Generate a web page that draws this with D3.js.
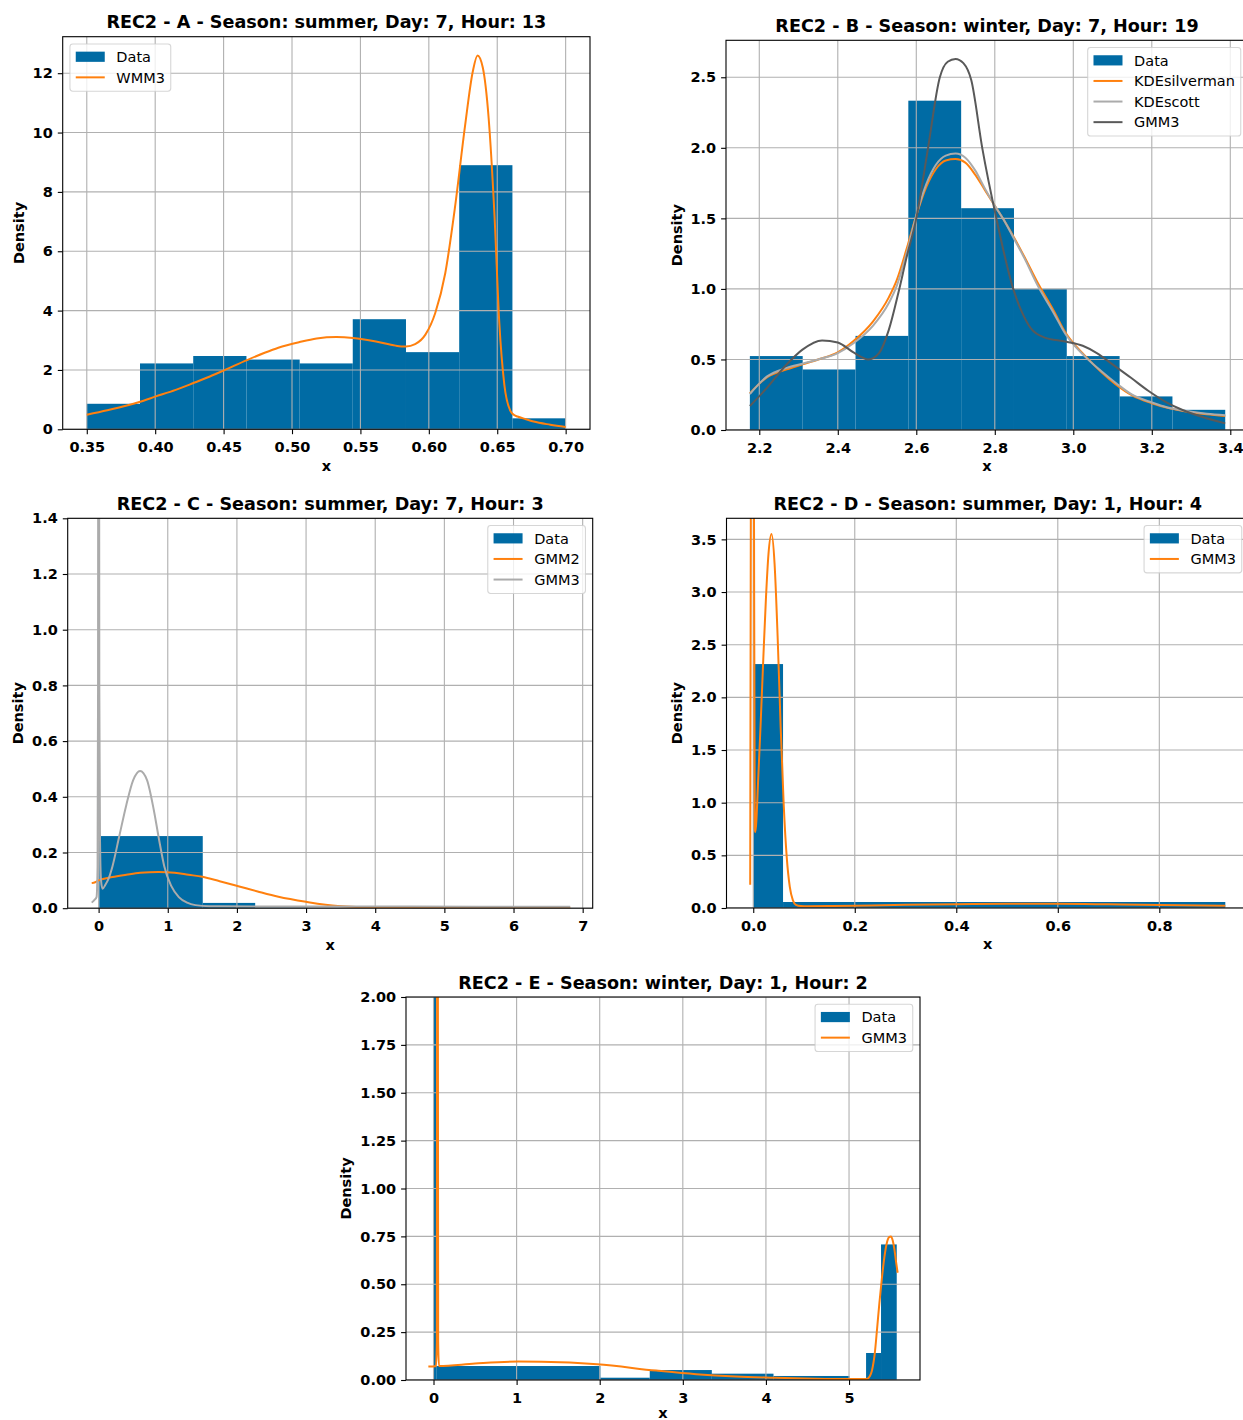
<!DOCTYPE html>
<html>
<head>
    <title>REC2 density fits</title>
    <meta charset="utf-8" />
    <style>
        body { margin: 0; background: #fff; }
        svg { display: block; font-family: "DejaVu Sans", sans-serif; }
        .tick-label { font-size: 14.5px; font-weight: bold; fill: #000; }
        .ax-label { font-size: 14.5px; font-weight: bold; fill: #000; }
        .ax-title { font-size: 17.6px; font-weight: bold; fill: #000; }
        .leg-text { font-size: 14.5px; fill: #000; }
    </style>
    <script src="https://cdn.jsdelivr.net/npm/d3@7"></script>
</head>
<body>
<svg id="fig"></svg>
<script>

/* data */

// A - summer, day 7, hour 13
let aEdges = [0.35, 0.3889, 0.4278, 0.4667, 0.5056, 0.5444, 0.5833, 0.6222, 0.6611, 0.70];
let aDensity = [0.86, 2.22, 2.47, 2.35, 2.22, 3.71, 2.60, 8.90, 0.37];
let aWMM3 = [[0.35,0.49],[0.365,0.64],[0.38,0.81],[0.389,0.93],[0.40,1.10],[0.415,1.33],[0.428,1.56],
    [0.44,1.78],[0.45,1.98],[0.467,2.33],[0.48,2.58],[0.49,2.75],[0.5056,2.94],[0.518,3.06],[0.5325,3.11],
    [0.5446,3.08],[0.5614,2.96],[0.5758,2.82],[0.5833,2.79],[0.590,2.87],[0.5975,3.19],[0.6047,3.92],
    [0.612,5.26],[0.6192,7.51],[0.6264,10.2],[0.6321,12.05],[0.6356,12.6],[0.6394,12.2],[0.6437,10.5],
    [0.648,7.2],[0.6515,3.6],[0.6552,1.5],[0.6596,0.62],[0.6624,0.48],[0.6648,0.43],[0.671,0.34],
    [0.6766,0.26],[0.6888,0.155],[0.70,0.08]];
let aXTicks = [0.35, 0.40, 0.45, 0.50, 0.55, 0.60, 0.65, 0.70];
let aYTicks = [0, 2, 4, 6, 8, 10, 12];

// B - winter, day 7, hour 19
let bEdges = [2.176, 2.3106, 2.4452, 2.5797, 2.7143, 2.8489, 2.9834, 3.118, 3.2526, 3.3871];
let bDensity = [0.524, 0.429, 0.667, 2.334, 1.572, 1.0, 0.524, 0.238, 0.143];
let bKDEsilverman = [[2.176,0.26],[2.22,0.375],[2.27,0.43],[2.31,0.465],[2.35,0.50],[2.40,0.55],[2.44,0.63],
    [2.49,0.77],[2.53,0.94],[2.55,1.06],[2.575,1.28],[2.60,1.52],[2.625,1.72],[2.65,1.85],[2.675,1.91],
    [2.70,1.92],[2.725,1.895],[2.75,1.81],[2.775,1.70],[2.80,1.59],[2.825,1.48],[2.85,1.36],[2.875,1.23],
    [2.91,1.04],[2.95,0.845],[2.98,0.69],[3.03,0.525],[3.07,0.415],[3.11,0.32],[3.15,0.245],[3.20,0.19],
    [3.24,0.158],[3.28,0.135],[3.34,0.112],[3.387,0.10]];
let bKDEscott = [[2.176,0.255],[2.22,0.38],[2.27,0.44],[2.31,0.47],[2.35,0.50],[2.40,0.545],[2.44,0.615],
    [2.49,0.74],[2.53,0.90],[2.55,1.02],[2.575,1.25],[2.60,1.52],[2.625,1.74],[2.65,1.88],[2.675,1.945],
    [2.70,1.96],[2.725,1.93],[2.75,1.84],[2.775,1.71],[2.80,1.59],[2.825,1.48],[2.85,1.35],[2.875,1.22],
    [2.91,1.02],[2.95,0.83],[2.98,0.68],[3.03,0.52],[3.07,0.42],[3.11,0.33],[3.15,0.25],[3.20,0.195],
    [3.24,0.16],[3.28,0.138],[3.34,0.115],[3.387,0.105]];
let bGMM3 = [[2.176,0.17],[2.22,0.30],[2.265,0.45],[2.31,0.57],[2.36,0.635],[2.40,0.62],[2.44,0.55],
    [2.478,0.50],[2.505,0.545],[2.53,0.71],[2.555,0.98],[2.575,1.22],[2.60,1.50],[2.63,2.00],[2.66,2.50],
    [2.68,2.61],[2.70,2.63],[2.72,2.60],[2.74,2.48],[2.768,2.00],[2.804,1.50],[2.847,1.00],[2.87,0.83],
    [2.892,0.72],[2.927,0.655],[2.98,0.627],[3.024,0.597],[3.06,0.545],[3.10,0.465],[3.147,0.37],
    [3.19,0.28],[3.235,0.20],[3.28,0.14],[3.323,0.097],[3.387,0.047]];
let bXTicks = [2.2, 2.4, 2.6, 2.8, 3.0, 3.2, 3.4];
let bYTicks = [0, 0.5, 1.0, 1.5, 2.0, 2.5];

// C - summer, day 7, hour 3
let cEdges = [0, 0.011, 1.506, 2.264, 3.02, 3.78, 4.54, 5.30, 6.06, 6.82];
let cDensity = [25, 0.259, 0.019, 0.002, 0.001, 0, 0.001, 0, 0.001];
let cGMM2 = [[-0.10,0.09],[-0.05,0.093],[0,0.10],[0.2,0.112],[0.4,0.12],[0.6,0.127],[0.87,0.13],[1.1,0.127],
    [1.3,0.12],[1.5,0.113],[1.75,0.097],[2.02,0.079],[2.3,0.06],[2.6,0.041],[3.0,0.023],[3.46,0.008],
    [4.03,0.003],[5.0,0.002],[6.82,0.002]];
let cGMM3 = [[-0.10,0.02],[-0.06,0.03],[-0.03,0.04],[-0.015,0.15],[-0.008,0.8],[-0.004,3.0],[0,6.0],
    [0.004,3.0],[0.01,0.8],[0.02,0.25],[0.035,0.10],[0.057,0.07],[0.10,0.085],[0.15,0.11],[0.20,0.15],
    [0.30,0.26],[0.40,0.37],[0.50,0.46],[0.60,0.493],[0.70,0.46],[0.80,0.35],[0.875,0.245],[0.95,0.15],
    [1.05,0.08],[1.16,0.04],[1.28,0.02],[1.40,0.011],[1.60,0.007],[2.5,0.006],[4.0,0.006],[5.5,0.005],
    [6.82,0.005]];
let cXTicks = [0, 1, 2, 3, 4, 5, 6, 7];
let cYTicks = [0, 0.2, 0.4, 0.6, 0.8, 1.0, 1.2, 1.4];

// D - summer, day 1, hour 4
let dEdges = [0, 0.0587, 0.93];
let dDensity = [2.316, 0.057];
let dGMM3 = [[-0.006,0.22],[-0.0045,4.5],[-0.0015,10],[0.0012,4.5],[0.003,0.75],[0.004,0.72],[0.01,1.25],
    [0.015,1.80],[0.02,2.39],[0.025,2.94],[0.03,3.36],[0.036,3.55],[0.042,3.27],[0.048,2.58],[0.054,1.72],
    [0.06,0.98],[0.066,0.48],[0.072,0.2],[0.078,0.075],[0.084,0.03],[0.094,0.018],[0.106,0.016],
    [0.15,0.018],[0.2,0.022],[0.3,0.03],[0.4,0.036],[0.5,0.04],[0.6,0.04],[0.7,0.035],[0.8,0.028],
    [0.93,0.022]];
let dXTicks = [0, 0.2, 0.4, 0.6, 0.8];
let dYTicks = [0, 0.5, 1.0, 1.5, 2.0, 2.5, 3.0, 3.5];

// E - winter, day 1, hour 2
let eEdges = [0, 0.033, 2.008, 2.602, 3.349, 4.091, 5.005, 5.205, 5.385, 5.574];
let eDensity = [12, 0.073, 0.012, 0.052, 0.033, 0.021, 0, 0.141, 0.708];
let eGMM3 = [[-0.062,0.07],[0.0,0.071],[0.03,0.072],[0.04,0.2],[0.045,3],[0.048,12],[0.051,3],[0.056,0.2],
    [0.066,0.073],[0.5,0.086],[1.02,0.096],[1.3,0.095],[1.97,0.082],[2.68,0.049],[3.16,0.03],[3.64,0.018],
    [4.11,0.012],[4.59,0.007],[5.0,0.005],[5.21,0.005],[5.25,0.02],[5.276,0.05],[5.31,0.14],[5.338,0.27],
    [5.365,0.40],[5.395,0.53],[5.425,0.64],[5.452,0.71],[5.48,0.745],[5.504,0.75],[5.525,0.73],
    [5.547,0.68],[5.565,0.62],[5.585,0.56]];
let eXTicks = [0, 1, 2, 3, 4, 5];
let eYTicks = [0, 0.25, 0.5, 0.75, 1.0, 1.25, 1.5, 1.75, 2.0];

/* colours (tableau-colorblind10) */
let BLUE = "#006BA4", ORANGE = "#FF800E", LGREY = "#ABABAB", DGREY = "#595959";

/* panel layout: [left, top, right, bottom] of each axes box in px */
let panels = [
    { title: "REC2 - A - Season: summer, Day: 7, Hour: 13", box: [62.7, 36.7, 590, 429.3],
      xDom: [0.3324, 0.7178], yDom: [0, 13.23], xTicks: aXTicks, yTicks: aYTicks, xFmt: ".2f", yFmt: "d",
      edges: aEdges, density: aDensity, legend: "left",
      curves: [{ name: "WMM3", pts: aWMM3, color: ORANGE }] },
    { title: "REC2 - B - Season: winter, Day: 7, Hour: 19", box: [726, 40.3, 1248, 430],
      xDom: [2.1152, 3.4451], yDom: [0, 2.762], xTicks: bXTicks, yTicks: bYTicks, xFmt: ".1f", yFmt: ".1f",
      edges: bEdges, density: bDensity, legend: "right",
      curves: [{ name: "KDEsilverman", pts: bKDEsilverman, color: ORANGE },
               { name: "KDEscott", pts: bKDEscott, color: LGREY },
               { name: "GMM3", pts: bGMM3, color: DGREY }] },
    { title: "REC2 - C - Season: summer, Day: 7, Hour: 3", box: [67.7, 518.3, 592.7, 908.2],
      xDom: [-0.447, 7.145], yDom: [0, 1.4], xTicks: cXTicks, yTicks: cYTicks, xFmt: "d", yFmt: ".1f",
      edges: cEdges, density: cDensity, legend: "right",
      curves: [{ name: "GMM2", pts: cGMM2, color: ORANGE },
               { name: "GMM3", pts: cGMM3, color: LGREY }] },
    { title: "REC2 - D - Season: summer, Day: 1, Hour: 4", box: [726.5, 518.3, 1249, 908],
      xDom: [-0.0527, 0.9767], yDom: [0, 3.7], xTicks: dXTicks, yTicks: dYTicks, xFmt: ".1f", yFmt: ".1f",
      edges: dEdges, density: dDensity, legend: "right",
      curves: [{ name: "GMM3", pts: dGMM3, color: ORANGE }] },
    { title: "REC2 - E - Season: winter, Day: 1, Hour: 2", box: [406, 997, 920, 1380],
      xDom: [-0.331, 5.854], yDom: [0, 2], xTicks: eXTicks, yTicks: eYTicks, xFmt: "d", yFmt: ".2f",
      edges: eEdges, density: eDensity, legend: "right",
      curves: [{ name: "GMM3", pts: eGMM3, color: ORANGE }] }
];

/* drawing */

let W = 1243, H = 1420;
let svg = d3.select("#fig").attr("width", W).attr("height", H);
svg.append("rect").attr("width", W).attr("height", H).attr("fill", "#fff");

panels.forEach(drawPanel);

function drawPanel(p, i) {
    let [l, t, r, b] = p.box;
    let x = d3.scaleLinear().domain(p.xDom).range([l, r]);
    let y = d3.scaleLinear().domain(p.yDom).range([b, t]);

    let g = svg.append("g").attr("class", "panel");
    let clipId = "clip" + i;
    g.append("clipPath").attr("id", clipId)
        .append("rect").attr("x", l).attr("y", t).attr("width", r - l).attr("height", b - t);

    let plot = g.append("g").attr("clip-path", "url(#" + clipId + ")");

    // histogram bars
    let bins = p.density.map((h, k) => ({ x0: p.edges[k], x1: p.edges[k + 1], h: h }));
    plot.append("g").selectAll("rect")
        .data(bins)
        .enter()
        .append("rect")
        .attr("x", d => x(d.x0))
        .attr("width", d => x(d.x1) - x(d.x0))
        .attr("y", d => y(d.h))
        .attr("height", d => y(0) - y(d.h))
        .attr("fill", BLUE);

    // grid (above bars, below lines, like matplotlib)
    let grid = plot.append("g").attr("stroke", "#b0b0b0").attr("stroke-width", 1.1);
    grid.selectAll(".gx").data(p.xTicks).enter().append("line")
        .attr("x1", d => x(d)).attr("x2", d => x(d)).attr("y1", t).attr("y2", b);
    grid.selectAll(".gy").data(p.yTicks).enter().append("line")
        .attr("x1", l).attr("x2", r).attr("y1", d => y(d)).attr("y2", d => y(d));

    // fitted densities
    let line = d3.line()
        .x(d => x(d[0]))
        .y(d => y(d[1]))
        .curve(d3.curveMonotoneX);
    plot.append("g").selectAll("path")
        .data(p.curves)
        .enter()
        .append("path")
        .attr("d", d => line(d.pts))
        .attr("fill", "none")
        .attr("stroke", d => d.color)
        .attr("stroke-width", 2)
        .attr("stroke-linejoin", "round");

    // frame
    g.append("rect").attr("x", l).attr("y", t).attr("width", r - l).attr("height", b - t)
        .attr("fill", "none").attr("stroke", "#000").attr("stroke-width", 1.1);

    // axes
    let xAx = g.append("g").attr("transform", "translate(0," + b + ")")
        .call(d3.axisBottom(x).tickValues(p.xTicks).tickFormat(d3.format(p.xFmt))
            .tickSize(4.9).tickPadding(7.5).tickSizeOuter(0));
    let yAx = g.append("g").attr("transform", "translate(" + l + ",0)")
        .call(d3.axisLeft(y).tickValues(p.yTicks).tickFormat(d3.format(p.yFmt))
            .tickSize(4.9).tickPadding(5).tickSizeOuter(0));
    [xAx, yAx].forEach(ax => {
        ax.select(".domain").remove();
        ax.attr("font-size", null).attr("font-family", null);
        ax.selectAll("line").attr("stroke", "#000").attr("stroke-width", 1.1);
        ax.selectAll("text").attr("class", "tick-label");
    });

    // titles and labels
    g.append("text").attr("class", "ax-title")
        .attr("x", (l + r) / 2).attr("y", t - 8.4)
        .attr("text-anchor", "middle")
        .text(p.title);

    // the bottom panel's "x" sits at the page edge; keep it inside
    g.append("text").attr("class", "ax-label")
        .attr("x", (l + r) / 2).attr("y", Math.min(b + 41.3, H - 2))
        .attr("text-anchor", "middle")
        .text("x");

    let minX = d3.min(yAx.selectAll("text").nodes(), n => n.getBBox().x) + l;
    g.append("text").attr("class", "ax-label")
        .attr("transform", "translate(" + (minX - 8.9) + "," + ((t + b) / 2) + ") rotate(-90)")
        .attr("text-anchor", "middle")
        .text("Density");

    drawLegend(g, p);
}

function drawLegend(g, p) {
    let [l, t, r, b] = p.box;
    let fs = 14.5, rowH = 20.6, pad = 5.8, handle = 29, gap = 11.6;
    let items = [{ name: "Data", color: BLUE, patch: true }].concat(p.curves);

    let lg = g.append("g");
    let frame = lg.append("rect");
    let texts = lg.selectAll("text").data(items).enter().append("text")
        .attr("class", "leg-text")
        .text(d => d.name);
    let tw = d3.max(texts.nodes(), n => n.getComputedTextLength());

    let w = pad * 2 + handle + gap + tw;
    let h = 6.1 + rowH * items.length;
    let lx = p.legend === "left" ? l + 7.25 : r - 7.25 - w;
    let ly = t + 7.25;

    frame.attr("x", lx).attr("y", ly).attr("width", w).attr("height", h)
        .attr("rx", 2.9).attr("ry", 2.9)
        .attr("fill", "#fff").attr("fill-opacity", 0.8)
        .attr("stroke", "#ccc").attr("stroke-opacity", 0.8).attr("stroke-width", 1.1);

    let rowC = k => ly + 12.8 + k * rowH;
    items.forEach((d, k) => {
        if (d.patch) {
            lg.append("rect").attr("x", lx + pad).attr("y", rowC(k) - 5.1)
                .attr("width", handle).attr("height", 10.2).attr("fill", d.color);
        } else {
            lg.append("line").attr("x1", lx + pad).attr("x2", lx + pad + handle)
                .attr("y1", rowC(k)).attr("y2", rowC(k))
                .attr("stroke", d.color).attr("stroke-width", 2);
        }
    });
    texts.attr("x", lx + pad + handle + gap).attr("y", (d, k) => rowC(k) + 0.36 * fs);
}

</script>
</body>
</html>
